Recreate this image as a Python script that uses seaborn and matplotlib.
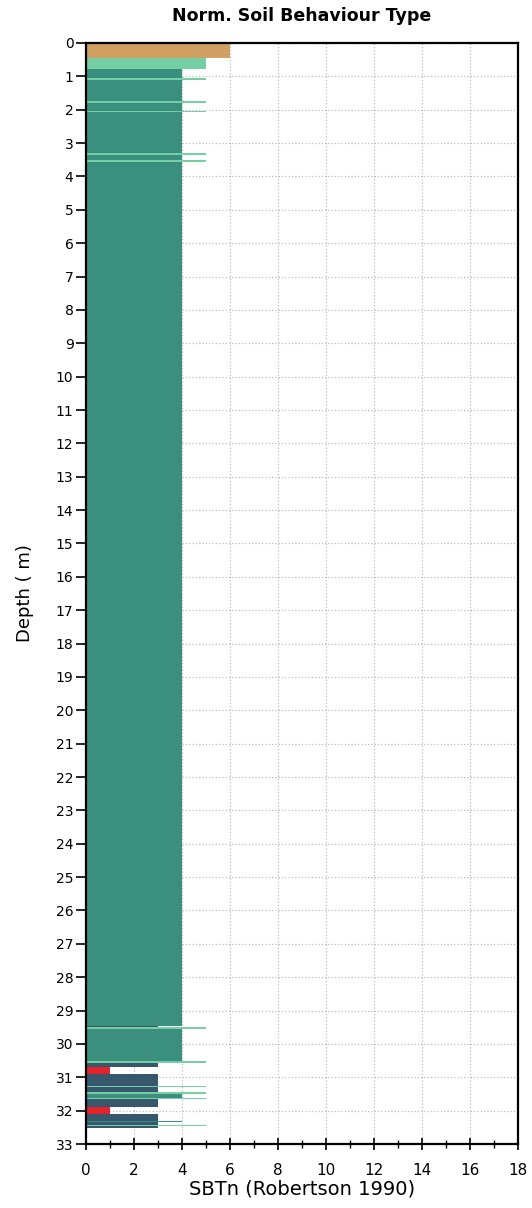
# Normalised soil behaviour type profile (CPT), Robertson 1990 zones

import numpy as np
import pandas as pd
import matplotlib
matplotlib.use("Agg")
import matplotlib.pyplot as plt
import seaborn as sns

sns.set_style("white")
plt.rcParams['font.family'] = ['DejaVu Sans']
plt.rcParams['text.color'] = 'black'
plt.rcParams['axes.labelcolor'] = 'black'
plt.rcParams['xtick.color'] = 'black'
plt.rcParams['ytick.color'] = 'black'

# Layers: top depth, bottom depth (m), SBTn zone
layer_top = [0.00, 0.45, 0.78, 1.05, 1.10, 1.75, 1.80, 2.03, 2.08, 3.30, 3.36, 3.50, 3.58,
             29.45, 29.50, 29.55, 30.52, 30.56, 30.70, 30.90, 31.25, 31.30, 31.45, 31.50,
             31.62, 31.66, 31.90, 32.10, 32.30, 32.35, 32.42, 32.46]
layer_bottom = [0.45, 0.78, 1.05, 1.10, 1.75, 1.80, 2.03, 2.08, 3.30, 3.36, 3.50, 3.58, 29.45,
                29.50, 29.55, 30.52, 30.56, 30.70, 30.90, 31.25, 31.30, 31.45, 31.50, 31.62,
                31.66, 31.90, 32.10, 32.30, 32.35, 32.42, 32.46, 32.52]
layer_zone = [6, 5, 4, 5, 4, 5, 4, 5, 4, 5, 4, 5, 4,
              3, 5, 4, 5, 3, 1, 3, 5, 3, 5, 4,
              5, 3, 1, 3, 4, 3, 5, 3]

zone_color = {1: '#e3222c', 2: '#9a6a3a', 3: '#37586c', 4: '#3a8f7e',
              5: '#74d0a3', 6: '#cfa062', 7: '#e8c070'}

df = pd.DataFrame({'top': layer_top, 'bottom': layer_bottom, 'zone': layer_zone})
df['thick'] = df['bottom'] - df['top']

fig = plt.figure(figsize=(5.32, 12.08), dpi=100)
ax = fig.add_axes([86/532, 64/1208, 432/532, 1101/1208])

ax.barh(df['top'], df['zone'], height=df['thick'], align='edge',
        color=[zone_color[z] for z in df['zone']], linewidth=0, zorder=2)

# Axes ranges and ticks
ax.set_xlim(0, 18)
ax.set_ylim(33, 0)
ax.set_xticks(np.arange(0, 19, 2))
ax.set_xticks(np.arange(0, 19, 1), minor=True)
ax.set_yticks(np.arange(0, 34, 1))

ax.grid(True, which='major', color='#bcbcbc', linestyle=':', linewidth=0.9, zorder=0)
ax.set_axisbelow(True)

for s in ax.spines.values():
    s.set_color('black')
    s.set_linewidth(1.6)

ax.tick_params(axis='y', which='major', direction='out', length=7, width=1.2,
               labelsize=10, pad=2, left=True)
ax.tick_params(axis='x', which='major', direction='inout', length=9, width=1.2,
               labelsize=11, pad=9, bottom=True)
ax.tick_params(axis='x', which='minor', direction='inout', length=6, width=1.0, bottom=True)

ax.set_title('Norm. Soil Behaviour Type', fontsize=12.5, fontweight='bold', pad=16)
ax.set_xlabel('SBTn (Robertson 1990)', fontsize=14, labelpad=1)
ax.set_ylabel('Depth ( m)', fontsize=13, labelpad=16)

plt.savefig('out.png', dpi=100)
plt.close()
